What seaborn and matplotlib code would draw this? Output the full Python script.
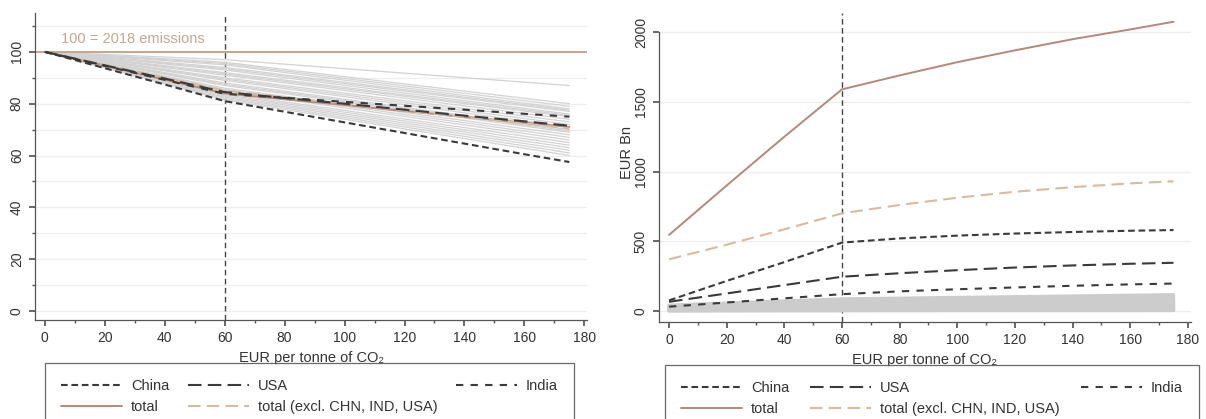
import numpy as np
import pandas as pd
import matplotlib
matplotlib.use("Agg")
import matplotlib.pyplot as plt
import seaborn as sns

# carbon price grid (EUR per tonne of CO2)
price = [0, 20, 40, 60, 80, 100, 120, 140, 160, 175]

# left panel: emissions index (100 = 2018 emissions)
china_idx = [100, 93.7, 87.4, 81.0, 76.9, 72.8, 68.7, 64.6, 60.5, 57.5]
usa_idx = [100, 94.8, 89.7, 84.5, 82.2, 80.0, 77.7, 75.4, 73.2, 71.5]
india_idx = [100, 94.6, 89.2, 83.8, 82.3, 80.7, 79.2, 77.7, 76.1, 75.0]
total_idx = [100, 94.7, 89.3, 84.0, 81.7, 79.5, 77.2, 74.9, 72.7, 71.0]
excl_idx = [100, 95.0, 90.0, 85.0, 82.5, 80.0, 77.4, 74.9, 72.4, 70.5]

# other countries, left panel (values at 0, 60, 175)
grey_x = [0, 60, 175]
grey_idx_60 = [97, 96, 95.5, 95, 94, 93.5, 93, 92, 91.5, 91, 90, 89.5, 89,
               88, 87.5, 87, 86, 85.5, 85, 84, 83.5, 83, 82.5, 82, 81.5]
grey_idx_175 = [87, 80, 79, 78, 77.5, 77, 76, 75.5, 75, 74, 73, 72, 71,
                70, 69.5, 69, 68, 67, 66, 65, 64, 63, 62, 61, 60]

# right panel: costs (EUR Bn)
total_cost = [545, 900, 1250, 1590, 1690, 1785, 1870, 1950, 2020, 2075]
excl_cost = [370, 475, 585, 700, 760, 812, 855, 888, 915, 930]
china_cost = [75, 215, 350, 490, 520, 540, 555, 566, 575, 580]
usa_cost = [65, 125, 185, 245, 270, 292, 311, 326, 338, 345]
india_cost = [30, 60, 90, 120, 140, 155, 168, 180, 190, 196]

# other countries, right panel (values at 0, 60, 175)
grey_cost_0 = [40, 35, 30, 28, 25, 22, 20, 18, 15, 12, 10, 8, 6, 5, 4, 3, 2, 1]
grey_cost_60 = [85, 75, 65, 60, 55, 50, 45, 40, 35, 30, 25, 20, 16, 12, 9, 6, 4, 2]
grey_cost_175 = [115, 100, 90, 82, 75, 68, 60, 54, 48, 42, 36, 30, 24, 18, 13, 9, 5, 3]

DARK = "#3a3a3a"
TOTAL_C = "#b5887a"
EXCL_C = "#d8bb9e"
REF_C = "#c7a58e"
GREY = "#d2d2d2"
TXT = "#333333"

styles = {
    "China": dict(color=DARK, linestyle=(0, (3.2, 1.8)), lw=1.5),
    "USA": dict(color=DARK, linestyle=(0, (6.5, 3)), lw=1.5),
    "India": dict(color=DARK, linestyle=(0, (3.5, 3.5)), lw=1.5),
    "total": dict(color=TOTAL_C, linestyle="-", lw=1.4),
    "total (excl. CHN, IND, USA)": dict(color=EXCL_C, linestyle=(0, (6, 3)), lw=1.5),
}


def grey_frame(cols):
    rows = []
    for i, vals in enumerate(zip(*cols)):
        for x, v in zip(grey_x, vals):
            rows.append({"unit": i, "x": x, "y": v})
    return pd.DataFrame(rows)


def style_axes(ax, xlim, ylim, major, minor, grid_minor):
    ax.set_xlim(*xlim)
    ax.set_ylim(*ylim)
    ax.set_xticks(np.arange(0, 181, 20))
    ax.set_xticks(np.arange(10, 181, 20), minor=True)
    ax.set_yticks(major)
    if minor is not None:
        ax.set_yticks(minor, minor=True)
    gl = list(major) + (list(minor) if (minor is not None and grid_minor) else [])
    for g in gl:
        ax.axhline(g, color="#eeeeee", lw=0.9, zorder=0)
    for s in ["top", "right"]:
        ax.spines[s].set_visible(False)
    for s in ["left", "bottom"]:
        ax.spines[s].set_color("#555555")
        ax.spines[s].set_linewidth(0.9)
    ax.tick_params(axis="both", which="major", direction="out", length=4,
                   color="#555555", labelsize=10, labelcolor=TXT, pad=4,
                   left=True, bottom=True)
    ax.tick_params(axis="both", which="minor", direction="out", length=2.5,
                   color="#555555", left=True, bottom=True)
    for lab in ax.get_yticklabels():
        lab.set_rotation(90)
        lab.set_va("center")
    ax.set_xlabel("EUR per tonne of CO₂", fontsize=10.5, color=TXT, labelpad=4)
    ax.axvline(60, color="#444444", lw=1.0, linestyle=(0, (4, 2.5)), zorder=1)


def add_legend(ax, x0, width):
    handles, labels = ax.get_legend_handles_labels()
    lookup = dict(zip(labels, handles))
    order = ["China", "total", "USA", "total (excl. CHN, IND, USA)", "India"]
    leg = ax.legend([lookup[k] for k in order], order, ncol=3, mode="expand",
                    loc="upper left", bbox_to_anchor=(x0, -0.14, width, 0),
                    borderaxespad=0, frameon=True, fancybox=False,
                    edgecolor="#444444", fontsize=10.5, handlelength=4.2,
                    handletextpad=0.6, labelspacing=0.45, borderpad=1.1,
                    columnspacing=1.0)
    leg.get_frame().set_linewidth(0.9)
    for t in leg.get_texts():
        t.set_color(TXT)


def main():
    sns.set_theme(style="white")
    plt.rcParams["font.family"] = ["Liberation Sans", "DejaVu Sans"]

    fig = plt.figure(figsize=(12.06, 4.19), dpi=100)
    ax1 = fig.add_axes([0.029, 0.236, 0.458, 0.733])
    ax2 = fig.add_axes([0.5464, 0.2315, 0.441, 0.7375])

    # ---- left panel: emissions index
    gdf = grey_frame([[100] * len(grey_idx_60), grey_idx_60, grey_idx_175])
    sns.lineplot(data=gdf, x="x", y="y", units="unit", estimator=None,
                 color=GREY, lw=0.9, legend=False, ax=ax1)
    ax1.axhline(100, color=REF_C, lw=1.4, zorder=2)
    ax1.text(5.5, 105, "100 = 2018 emissions", color=REF_C, fontsize=10.5,
             va="center", ha="left")
    series_idx = [("total", total_idx), ("total (excl. CHN, IND, USA)", excl_idx),
                  ("China", china_idx), ("USA", usa_idx), ("India", india_idx)]
    for name, vals in series_idx:
        sns.lineplot(x=price, y=vals, label=name, ax=ax1, **styles[name])
    style_axes(ax1, (-3.3, 181), (-3.5, 115), np.arange(0, 101, 20),
               np.arange(10, 111, 20), True)
    ax1.set_ylabel("")
    add_legend(ax1, 0.018, 0.958)

    # ---- right panel: costs
    gdf2 = grey_frame([grey_cost_0, grey_cost_60, grey_cost_175])
    sns.lineplot(data=gdf2, x="x", y="y", units="unit", estimator=None,
                 color="#cccccc", lw=2.5, legend=False, ax=ax2)
    series_cost = [("total", total_cost), ("total (excl. CHN, IND, USA)", excl_cost),
                   ("China", china_cost), ("USA", usa_cost), ("India", india_cost)]
    for name, vals in series_cost:
        sns.lineplot(x=price, y=vals, label=name, ax=ax2, **styles[name])
    style_axes(ax2, (-3.5, 181), (-80, 2138), np.arange(0, 2001, 500), None, False)
    ax2.spines["left"].set_bounds(-80, 2000)
    ax2.set_ylabel("EUR Bn", fontsize=10.5, color=TXT)
    ax2.yaxis.set_label_coords(-0.047, 0.55)
    add_legend(ax2, 0.011, 1.004)

    fig.savefig("out.png", dpi=100)
    plt.close(fig)


if __name__ == "__main__":
    main()
